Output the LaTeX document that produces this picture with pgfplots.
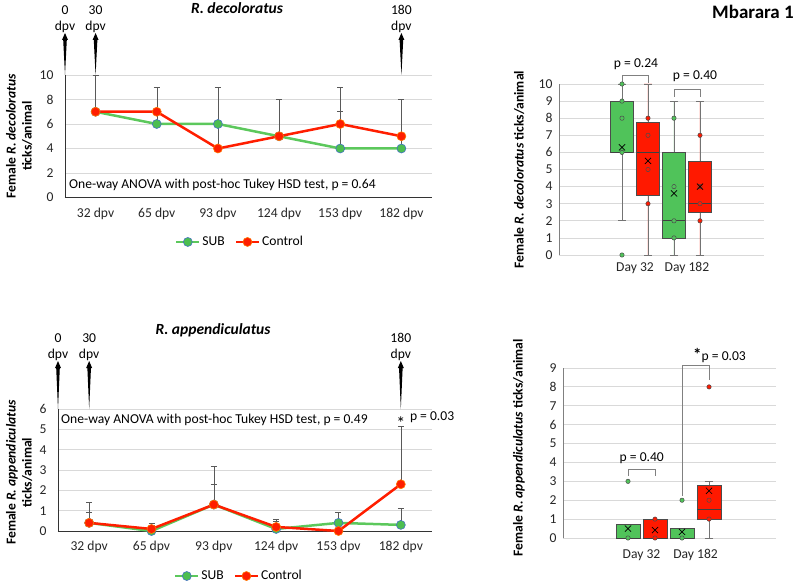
\documentclass[border=0pt]{standalone}
\usepackage{fontspec}
\setmainfont{Carlito}
\usepackage{pgfplots}
\pgfplotsset{compat=1.18}
\usepgfplotslibrary{statistics}

\definecolor{lgreen}{RGB}{92,200,92}
\definecolor{mgreen}{RGB}{76,190,80}
\definecolor{medge}{RGB}{68,114,196}
\definecolor{lred}{RGB}{255,30,0}
\definecolor{redge}{RGB}{255,120,0}
\definecolor{bgreen}{RGB}{80,195,90}
\definecolor{bred}{RGB}{255,25,0}
\definecolor{gridc}{RGB}{217,217,217}

\newcommand\fsz{\fontsize{13.6pt}{16pt}\selectfont}

% arrow above the axis: x, y (axis units), length, label
\newcommand\dpvarrow[4]{%
  \fill[black] (axis cs:#1,#2) -- ++(-1.8pt,#3-7pt) -- ++(-1.2pt,0pt) -- ++(3pt,7pt)
    -- ++(3pt,-7pt) -- ++(-1.2pt,0pt) -- cycle;
  \node[font=\fsz, align=center, anchor=south, inner sep=0.5pt] at ([yshift=#3]axis cs:#1,#2) {#4\\dpv};
}

\tikzset{bracket/.style={gray, line width=0.7pt}}

\pgfplotsset{
  /pgf/number format/assume math mode=true,
  base/.style={
    anchor=south west, scale only axis, clip=false,
    axis lines*=left, axis line style={-},
    ymajorgrids, grid style={gridc, line width=0.8pt},
    major tick length=0pt,
    tick label style={font=\fsz, text=black!85},
    ylabel style={font=\fsz\bfseries, align=center, anchor=center},
  },
  linechart/.style={base,
    xmin=-0.5, xmax=5.5, xtick={0,...,5},
    xticklabels={32 dpv,65 dpv,93 dpv,124 dpv,153 dpv,182 dpv},
    axis line style={black!80, line width=0.8pt},
    xticklabel style={yshift=-7pt},
    yticklabel style={xshift=-8pt},
    legend image code/.code={\draw[mark repeat=2, mark phase=2, ##1]
      plot coordinates {(0cm,0cm) (0.4cm,0cm) (0.8cm,0cm)};},
    legend style={draw=none, fill=none, anchor=center, legend columns=2, font=\fsz,
      /tikz/every even column/.append style={column sep=8pt}},
  },
  boxchart/.style={base,
    boxplot/draw direction=y,
    x axis line style={draw=none},
    y axis line style={gray, line width=0.8pt},
    boxplot/every whisker/.style={draw=gray!90!black, line width=0.8pt},
    boxplot/every median/.style={draw=black!75, line width=0.9pt},
    yticklabel style={xshift=-3pt},
  },
  sub/.style={lgreen, line width=2.5pt, mark=*, mark size=4.5pt,
    mark options={fill=mgreen, draw=medge, line width=0.6pt},
    error bars/y dir=plus, error bars/y explicit,
    error bars/error bar style={black!65, line width=0.5pt},
    error bars/error mark options={rotate=90, black!65, mark size=3pt, line width=0.5pt}},
  ctrl/.style={lred, line width=2.5pt, mark=*, mark size=4.5pt,
    mark options={fill=lred, draw=redge, line width=0.6pt},
    error bars/y dir=plus, error bars/y explicit,
    error bars/error bar style={black!65, line width=0.5pt},
    error bars/error mark options={rotate=90, black!65, mark size=3pt, line width=0.5pt}},
  gpts/.style={only marks, mark=*, mark size=2.2pt, mark options={fill=bgreen, draw=black!70, line width=0.5pt}},
  rpts/.style={only marks, mark=*, mark size=2.2pt, mark options={fill=bred, draw=black!70, line width=0.5pt}},
  means/.style={only marks, mark=x, mark size=4.3pt, mark options={black, line width=0.7pt}},
}

\begin{document}
\begin{tikzpicture}
\path[use as bounding box] (0,0) rectangle (800pt,582pt);

\node[font=\fontsize{15.5pt}{18pt}\selectfont\bfseries\itshape] at (237pt,573.7pt) {R. decoloratus};
\node[font=\fontsize{15.5pt}{18pt}\selectfont\bfseries\itshape] at (213pt,251.3pt) {R. appendiculatus};
\node[font=\fontsize{19pt}{22pt}\selectfont\bfseries] at (753pt,570pt) {Mbarara 1};

% top left: R. decoloratus over time
\begin{axis}[linechart,
  at={(65pt,384.5pt)}, width=367pt, height=122.5pt,
  ymin=0, ymax=10, ytick={0,2,...,10},
  ylabel={Female \textit{R. decoloratus}\\ticks/animal},
  ylabel style={at={(axis description cs:-0.125,0.5)}},
  legend style={at={(0.477,-0.363)}},
]
\addplot[sub] coordinates {(0,7) +- (0,3) (1,6) +- (0,3) (2,6) +- (0,3) (3,5) +- (0,3) (4,4) +- (0,3) (5,4) +- (0,4)};
\addplot[ctrl] coordinates {(0,7) +- (0,3) (1,7) +- (0,2) (2,4) +- (0,5) (3,5) +- (0,3) (4,6) +- (0,3) (5,5) +- (0,3)};
\legend{SUB,Control}
\node[fill=white, anchor=west, inner sep=1pt, xshift=3pt, font=\fsz] at (axis cs:-0.5,1.0)
  {One-way ANOVA with post-hoc Tukey HSD test, p = 0.64};
\dpvarrow{-0.5}{10}{42pt}{0}
\dpvarrow{0}{10}{42pt}{30}
\dpvarrow{5}{10}{42pt}{180}
\end{axis}

% bottom left: R. appendiculatus over time
\begin{axis}[linechart,
  at={(58pt,51pt)}, width=374pt, height=122pt,
  ymin=0, ymax=6, ytick={0,...,6},
  ylabel={Female \textit{R. appendiculatus}\\ticks/animal},
  ylabel style={at={(axis description cs:-0.104,0.48)}},
  legend style={at={(0.484,-0.369)}},
]
\addplot[sub] coordinates {(0,0.4) +- (0,0.5) (1,0.0) +- (0,0.3) (2,1.3) +- (0,1.0) (3,0.1) +- (0,0.4) (4,0.4) +- (0,0.5) (5,0.3) +- (0,0.8)};
\addplot[ctrl] coordinates {(0,0.4) +- (0,1.0) (1,0.1) +- (0,0.3) (2,1.3) +- (0,1.9) (3,0.2) +- (0,0.4) (4,0.0) +- (0,0.0) (5,2.3) +- (0,2.85)};
\legend{SUB,Control}
\node[fill=white, anchor=west, inner sep=1pt, xshift=2pt, font=\fsz] at (axis cs:-0.5,5.46)
  {One-way ANOVA with post-hoc Tukey HSD test, p = 0.49};
\node[font=\fontsize{18pt}{18pt}\selectfont, inner sep=0pt] at ([yshift=-3pt]axis cs:5,5.46) {*};
\node[font=\fsz, anchor=west, inner sep=0pt] at ([xshift=9pt]axis cs:5,5.6) {p = 0.03};
\dpvarrow{-0.5}{6}{48pt}{0}
\dpvarrow{0}{6}{48pt}{30}
\dpvarrow{5}{6}{48pt}{180}
\end{axis}

% top right: box plot R. decoloratus
\begin{axis}[boxchart,
  at={(559pt,327pt)}, width=205pt, height=171pt,
  xmin=-1.423, xmax=6.462, ymin=0, ymax=10, ytick={0,...,10},
  xtick={1.5,3.5}, xticklabels={Day 32,Day 182},
  xticklabel style={yshift=-4pt},
  ylabel={Female \textit{R. decoloratus} ticks/animal},
  ylabel style={at={(axis description cs:-0.195,0.5)}},
]
\addplot[boxplot prepared={lower whisker=2, lower quartile=6, median=6, upper quartile=9, upper whisker=10,
  draw position=1, box extend=0.88, whisker extend=0.3}, draw=black!70, fill=bgreen, line width=0.8pt] coordinates {};
\addplot[boxplot prepared={lower whisker=0, lower quartile=3.5, median=6, upper quartile=7.75, upper whisker=10,
  draw position=2, box extend=0.88, whisker extend=0.3}, draw=black!70, fill=bred, line width=0.8pt] coordinates {};
\addplot[boxplot prepared={lower whisker=0, lower quartile=1, median=2, upper quartile=6, upper whisker=9,
  draw position=3, box extend=0.88, whisker extend=0.3}, draw=black!70, fill=bgreen, line width=0.8pt] coordinates {};
\addplot[boxplot prepared={lower whisker=0, lower quartile=2.5, median=3, upper quartile=5.45, upper whisker=9,
  draw position=4, box extend=0.88, whisker extend=0.3}, draw=black!70, fill=bred, line width=0.8pt] coordinates {};
\addplot[gpts] coordinates {(1,10) (1,9) (1,8) (1,6) (1,0) (3,8) (3,4) (3,2) (3,1)};
\addplot[rpts] coordinates {(2,8) (2,7) (2,5) (2,3) (4,7) (4,4) (4,3) (4,2)};
\addplot[means] coordinates {(1,6.3) (2,5.5) (3,3.6) (4,4.0)};
\draw[bracket] (axis cs:1,10.04) |- (axis cs:2,10.53) -- (axis cs:2,10.04);
\node[font=\fsz] at (axis cs:1.54,11.17) {p = 0.24};
\draw[bracket] (axis cs:3,9.26) |- (axis cs:4,9.69) -- (axis cs:4,9.26);
\node[font=\fsz] at (axis cs:3.81,10.43) {p = 0.40};
\end{axis}

% bottom right: box plot R. appendiculatus
\begin{axis}[boxchart,
  at={(563pt,44pt)}, width=213pt, height=170pt,
  xmin=-1.407, xmax=6.48, ymin=0, ymax=9, ytick={0,...,9},
  xtick={1.5,3.5}, xticklabels={Day 32,Day 182},
  xticklabel style={yshift=-8pt},
  ylabel={Female \textit{R. appendiculatus} ticks/animal},
  ylabel style={at={(axis description cs:-0.207,0.53)}},
]
\addplot[boxplot prepared={lower whisker=0, lower quartile=0, median=0, upper quartile=0.74, upper whisker=0.74,
  draw position=1, box extend=0.89, whisker extend=0.3}, draw=black!70, fill=bgreen, line width=0.8pt] coordinates {};
\addplot[boxplot prepared={lower whisker=0, lower quartile=0, median=0, upper quartile=1, upper whisker=1,
  draw position=2, box extend=0.89, whisker extend=0.3}, draw=black!70, fill=bred, line width=0.8pt] coordinates {};
\addplot[boxplot prepared={lower whisker=0, lower quartile=0, median=0, upper quartile=0.49, upper whisker=0.49,
  draw position=3, box extend=0.89, whisker extend=0.3}, draw=black!70, fill=bgreen, line width=0.8pt] coordinates {};
\addplot[boxplot prepared={lower whisker=0, lower quartile=1, median=1.52, upper quartile=2.77, upper whisker=3,
  draw position=4, box extend=0.89, whisker extend=0.3}, draw=black!70, fill=bred, line width=0.8pt] coordinates {};
\addplot[gpts] coordinates {(1,0) (1,3) (3,0) (3,2)};
\addplot[rpts] coordinates {(2,1) (2,0) (4,2) (4,1) (4,8)};
\addplot[means] coordinates {(1,0.5) (2,0.42) (3,0.32) (4,2.5)};
\draw[bracket] (axis cs:1,3.28) |- (axis cs:2,3.63) -- (axis cs:2,3.28);
\node[font=\fsz] at (axis cs:1.51,4.23) {p = 0.40};
\draw[bracket] (axis cs:3,2.24) |- (axis cs:4,9.12) -- (axis cs:4,8.36);
\node[font=\fsz] at (axis cs:4.39,9.68) {{\fontsize{17pt}{17pt}\selectfont\bfseries *}p = 0.03};
\end{axis}
\end{tikzpicture}
\end{document}
